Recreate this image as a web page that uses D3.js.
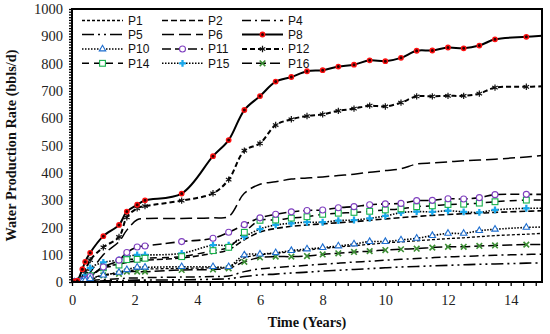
<!DOCTYPE html>
<html>
<head>
<meta charset="utf-8">
<script src="https://cdn.jsdelivr.net/npm/d3@7"></script>
<style>
  body { margin: 0; background: #fff; }
  svg { display: block; }
  .axis text { font-family: "Liberation Serif", "DejaVu Serif", serif; font-size: 14.5px; fill: #222; }
  .axis line { stroke: #000; stroke-width: 1.3; }
  .axis path { display: none; }
  .title { font-family: "Liberation Serif", serif; font-weight: bold; font-size: 14.3px; fill: #111; }
  .legend text { font-family: "Liberation Sans", sans-serif; font-size: 12px; fill: #111; }
</style>
</head>
<body>
<script>
// time points (years)
const times = [0, 0.08, 0.17, 0.33, 0.42, 0.58, 1, 1.5, 1.75, 2.08, 2.33, 3.5, 4.5, 5, 5.5, 6, 6.5, 7, 7.5, 8, 8.5, 9, 9.5, 10, 10.5, 11, 11.5, 12, 12.5, 13, 13.5, 14.5, 15];

// water production rate per well (bbls/d)
const p1  = [0,0,1,4,8,14,25,35,40,45,47,50,52,54,88,100,105,111,117,123,128,133,138,143,147,151,155,159,162,166,170,175,178];
const p2  = [0,0,1,5,10,18,55,65,72,78,80,88,105,118,155,183,196,204,209,213,217,221,226,231,236,240,244,247,250,252,255,259,261];
const p4  = [0,0,0,2,4,6,9,12,14,15,16,18,20,22,38,48,53,57,61,65,69,73,76,80,83,86,89,92,94,96,98,101,102];
const p5  = [0,0,0,1,2,3,4,5,6,7,7,8,10,12,20,26,29,33,36,40,43,46,49,52,55,57,59,61,63,65,66,69,70];
const p6  = [0,0,1,5,15,35,100,148,190,228,232,233,235,240,325,358,367,377,381,385,390,395,402,408,415,432,436,440,444,447,450,458,463];
const p8  = [0,2,5,47,74,107,168,209,258,283,299,324,461,520,630,681,734,751,772,776,789,796,812,809,821,847,848,859,856,866,889,898,902];
const p10 = [0,0,1,3,6,12,25,35,45,54,54,56,56,56,99,102,107,115,121,126,132,139,148,148,154,160,170,178,178,188,193,200,201];
const p11 = [0,0,1,5,10,20,55,80,108,128,132,148,160,182,210,235,248,257,262,264,272,276,283,286,288,298,299,305,304,309,320,321,321];
const p12 = [0,1,3,15,40,80,127,165,237,270,278,298,325,375,481,508,575,596,608,614,627,635,646,643,657,680,680,682,682,690,712,715,717];
const p14 = [0,0,1,4,8,23,52,62,82,83,87,93,115,127,182,226,227,234,239,248,252,255,259,264,268,276,279,284,285,289,294,300,300];
const p15 = [0,0,2,10,25,52,72,81,93,99,99,105,135,135,166,194,209,215,219,219,225,227,233,242,254,258,257,261,257,255,264,270,270];
const p16 = [0,0,0,2,4,8,24,30,38,38,38,44,46,50,74,90,93,93,95,101,105,110,113,117,120,122,126,129,129,132,134,137,137];

const seriesNames = ['P1', 'P2', 'P4', 'P5', 'P6', 'P8', 'P10', 'P11', 'P12', 'P14', 'P15', 'P16'];
const seriesValues = [p1, p2, p4, p5, p6, p8, p10, p11, p12, p14, p15, p16];

// line / marker look for each series
const styles = {
  P1:  { dash: '3,2', w: 1.3 },
  P2:  { dash: '6,3', w: 1.6 },
  P4:  { dash: '9,4,2,4', w: 1.5 },
  P5:  { dash: '12,4,2,4,2,4', w: 1.6 },
  P6:  { dash: '12,5', w: 1.5 },
  P8:  { dash: null, w: 2, marker: 'p8' },
  P10: { dash: '1.5,1.5', w: 1.6, marker: 'tri' },
  P11: { dash: '9,4', w: 1.6, marker: 'circ' },
  P12: { dash: '5,3', w: 2, marker: 'ast' },
  P14: { dash: '7,5', w: 1.5, marker: 'sq' },
  P15: { dash: '1.5,1.5', w: 1.6, marker: 'plus' },
  P16: { dash: '10,4', w: 1.5, marker: 'x' }
};

const width = 550, height = 334;
const plot = { left: 72, right: 542, top: 9, bottom: 282 };

const svg = d3.select('body').append('svg')
  .attr('width', width)
  .attr('height', height);

const x = d3.scaleLinear().domain([0, 15]).range([plot.left, plot.right]);
const y = d3.scaleLinear().domain([0, 1000]).range([plot.bottom, plot.top]);

// x axis: minor every 0.4, labels every 2
const xTicks = d3.range(0, 38).map(i => +(i * 0.4).toFixed(1));
svg.append('g')
  .attr('class', 'axis')
  .attr('transform', `translate(0,${plot.bottom})`)
  .call(d3.axisBottom(x).tickValues(xTicks).tickSize(4).tickPadding(9)
    .tickFormat((d, i) => i % 5 === 0 ? d : ''));

// y axis: minor every 10, labels every 100
const yTicks = d3.range(0, 101).map(i => i * 10);
svg.append('g')
  .attr('class', 'axis')
  .attr('transform', `translate(${plot.left},0)`)
  .call(d3.axisLeft(y).tickValues(yTicks).tickSize(3).tickPadding(6)
    .tickFormat((d, i) => i % 10 === 0 ? d : ''));

// clip
svg.append('clipPath').attr('id', 'clip')
  .append('rect')
  .attr('x', plot.left).attr('y', plot.top)
  .attr('width', plot.right - plot.left).attr('height', plot.bottom - plot.top);

const line = d3.line()
  .x(d => x(d[0]))
  .y(d => y(d[1]))
  .curve(d3.curveCatmullRom.alpha(0.5));

const gLines = svg.append('g').attr('clip-path', 'url(#clip)');

function drawMarker(g, type, cx, cy) {
  if (type === 'p8') {
    g.append('circle').attr('cx', cx).attr('cy', cy).attr('r', 2.2)
      .attr('fill', '#300').attr('stroke', '#ff1010').attr('stroke-width', 1.4);
  } else if (type === 'circ') {
    g.append('circle').attr('cx', cx).attr('cy', cy).attr('r', 3)
      .attr('fill', '#fff').attr('stroke', '#7f3fbf').attr('stroke-width', 1.1);
  } else if (type === 'tri') {
    g.append('path').attr('d', d3.symbol(d3.symbolTriangle, 18)())
      .attr('transform', `translate(${cx},${cy})`)
      .attr('fill', '#fff').attr('stroke', '#1f6fd0').attr('stroke-width', 1.1);
  } else if (type === 'sq') {
    g.append('rect').attr('x', cx - 2.9).attr('y', cy - 2.9).attr('width', 5.8).attr('height', 5.8)
      .attr('fill', '#fff').attr('stroke', '#16b04a').attr('stroke-width', 1.1);
  } else if (type === 'plus') {
    g.append('path').attr('d', d3.symbol(d3.symbolCross, 26)())
      .attr('transform', `translate(${cx},${cy})`)
      .attr('fill', '#18a8ec');
  } else if (type === 'ast') {
    g.append('path').attr('d', d3.symbol(d3.symbolAsterisk, 28)())
      .attr('transform', `translate(${cx},${cy})`)
      .attr('fill', 'none').attr('stroke', '#111').attr('stroke-width', 1.2);
  } else if (type === 'x') {
    g.append('path').attr('d', d3.symbol(d3.symbolX, 22)())
      .attr('transform', `translate(${cx},${cy})`)
      .attr('fill', 'none').attr('stroke', '#3d8f35').attr('stroke-width', 1.6);
  }
}

// lines first, markers on top
seriesNames.forEach((name, k) => {
  const st = styles[name];
  const pts = times.map((t, i) => [t, seriesValues[k][i]]);
  gLines.append('path')
    .attr('d', line(pts))
    .attr('fill', 'none')
    .attr('stroke', '#000')
    .attr('stroke-width', st.w)
    .attr('stroke-dasharray', st.dash);
});

// draw marker series in reverse so upper curves stay on top
seriesNames.slice().reverse().forEach(name => {
  const k = seriesNames.indexOf(name);
  const st = styles[name];
  if (!st.marker) return;
  const gm = gLines.append('g');
  times.forEach((t, i) => {
    if (t >= 15) return;
    drawMarker(gm, st.marker, x(t), y(seriesValues[k][i]));
  });
});

// frame
svg.append('rect')
  .attr('x', plot.left).attr('y', plot.top)
  .attr('width', plot.right - plot.left).attr('height', plot.bottom - plot.top)
  .attr('fill', 'none').attr('stroke', '#000').attr('stroke-width', 2);

// legend: 4 rows x 3 columns
const legend = svg.append('g').attr('class', 'legend');
const colX = [82, 162, 242];
const rowY = [20.5, 34.5, 49, 63.3];
seriesNames.forEach((name, i) => {
  const st = styles[name];
  const lx = colX[i % 3], ly = rowY[Math.floor(i / 3)];
  legend.append('line')
    .attr('x1', lx).attr('x2', lx + 41).attr('y1', ly).attr('y2', ly)
    .attr('stroke', '#000').attr('stroke-width', st.w)
    .attr('stroke-dasharray', st.dash);
  if (st.marker) drawMarker(legend, st.marker, lx + 20.5, ly);
  legend.append('text')
    .attr('x', lx + 46).attr('y', ly)
    .attr('dy', '0.35em')
    .text(name);
});

// titles
svg.append('text')
  .attr('class', 'title')
  .attr('x', 307).attr('y', 327)
  .attr('text-anchor', 'middle')
  .text('Time (Years)');

svg.append('text')
  .attr('class', 'title')
  .attr('transform', `translate(16,${(plot.top + plot.bottom) / 2}) rotate(-90)`)
  .attr('text-anchor', 'middle')
  .text('Water Production Rate (bbls/d)');
</script>
</body>
</html>
